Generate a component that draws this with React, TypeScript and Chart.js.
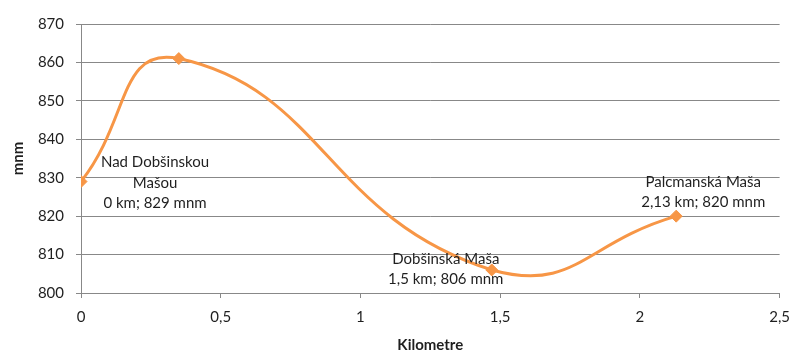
import React, { useEffect, useRef } from "react";
import { Chart, registerables } from "chart.js";

Chart.register(...registerables);

const distanceKm = [0, 0.35, 1.47, 2.13];
const altitude = [829, 861, 806, 820];
const pointLabels: string[][] = [
  ["Nad Dobšinskou", "Mašou", "0 km; 829 mnm"],
  [],
  ["Dobšinská Maša", "1,5 km; 806 mnm"],
  ["Palcmanská Maša", "2,13 km; 820 mnm"],
];
// label anchor offsets relative to each point (pixels): [dx, dy of first line]
const labelOffsets: [number, number][] = [
  [74, -19],
  [0, 0],
  [-46, -11],
  [27, -34],
];

const ORANGE = "#F79646";
const FONT = "Lato, 'Open Sans', sans-serif";

const labelPlugin = {
  id: "pointLabels",
  afterDatasetsDraw(chart: any) {
    const meta = chart.getDatasetMeta(0);
    const ctx = chart.ctx;
    ctx.save();
    ctx.font = `15px ${FONT}`;
    ctx.fillStyle = "#1f1f1f";
    ctx.textAlign = "center";
    ctx.textBaseline = "middle";
    meta.data.forEach((el: any, i: number) => {
      const lines = pointLabels[i] || [];
      const [dx, dy] = labelOffsets[i];
      lines.forEach((line, j) => {
        ctx.fillText(line, el.x + dx, el.y + dy + j * 20.5);
      });
    });
    ctx.restore();
  },
};

export default function App() {
  const canvasRef = useRef<HTMLCanvasElement | null>(null);

  useEffect(() => {
    if (!canvasRef.current) return;
    const chart = new Chart(canvasRef.current, {
      type: "scatter",
      data: {
        datasets: [
          {
            data: distanceKm.map((x, i) => ({ x, y: altitude[i] })),
            borderColor: ORANGE,
            backgroundColor: ORANGE,
            borderWidth: 3,
            showLine: true,
            tension: 0.5,
            pointStyle: "rectRot",
            pointRadius: 6,
            pointBorderWidth: 1,
          },
        ],
      },
      options: {
        animation: false,
        responsive: false,
        layout: { padding: { left: 0, right: 19, top: 24, bottom: 0 } },
        plugins: { legend: { display: false }, tooltip: { enabled: false } },
        scales: {
          x: {
            type: "linear",
            min: 0,
            max: 2.5,
            ticks: {
              stepSize: 0.5,
              padding: 10,
              color: "#1f1f1f",
              font: { family: FONT, size: 15 },
              callback: (v: any) => String(v).replace(".", ","),
            },
            grid: {
              drawOnChartArea: false,
              drawTicks: true,
              tickLength: 5,
              color: "#888888",
            },
            border: { color: "#888888" },
            title: {
              display: true,
              text: "Kilometre",
              color: "#1f1f1f",
              font: { family: FONT, size: 15, weight: "bold" },
              padding: { top: 0, bottom: 5 },
            },
            afterFit: (s: any) => {
              s.height = 66;
            },
          },
          y: {
            min: 800,
            max: 870,
            ticks: {
              stepSize: 10,
              padding: 12,
              color: "#1f1f1f",
              font: { family: FONT, size: 15 },
            },
            grid: {
              color: "#888888",
              tickLength: 5,
            },
            border: { color: "#888888" },
            title: {
              display: true,
              text: "mnm",
              color: "#1f1f1f",
              font: { family: FONT, size: 15, weight: "bold" },
              padding: { top: 9, bottom: 0 },
            },
            afterFit: (s: any) => {
              s.width = 81;
            },
          },
        },
      },
      plugins: [labelPlugin],
    });
    return () => chart.destroy();
  }, []);

  return (
    <div style={{ position: "fixed", left: 0, top: 0, width: 800, height: 359, background: "#fff" }}>
      <canvas ref={canvasRef} width={800} height={359} style={{ width: 800, height: 359 }} />
    </div>
  );
}
